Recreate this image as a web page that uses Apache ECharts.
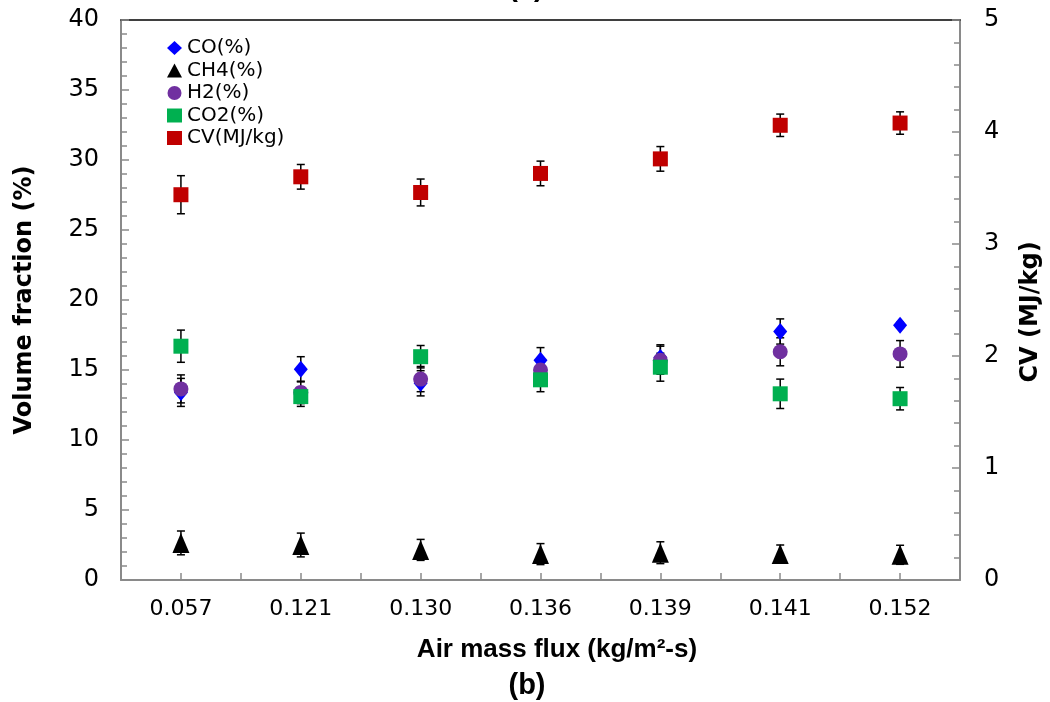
<!DOCTYPE html>
<html>
<head>
<meta charset="utf-8">
<script src="https://cdn.jsdelivr.net/npm/echarts@6/dist/echarts.min.js"></script>
<style>
html,body{margin:0;padding:0;background:#fff;}
#chart{width:1050px;height:702px;}
</style>
</head>
<body>
<div id="chart"></div>
<script>
// ---- data ----
var categories = ['0.057','0.121','0.130','0.136','0.139','0.141','0.152'];
var coVals   = [13.4, 15.05, 14.05, 15.7, 15.9, 17.75, 18.2];
var coErr    = [1.0, 0.9, 0.9, 0.9, 0.9, 0.9, 0.2];
var ch4Vals  = [2.65, 2.5, 2.15, 1.85, 1.95, 1.85, 1.8];
var ch4Err   = [0.85, 0.85, 0.75, 0.75, 0.78, 0.65, 0.68];
var h2Vals   = [13.65, 13.4, 14.35, 15.0, 15.7, 16.3, 16.15];
var h2Err    = [1.0, 0.8, 0.9, 0.8, 1.0, 1.0, 0.95];
var co2Vals  = [16.7, 13.1, 15.95, 14.3, 15.2, 13.3, 12.95];
var co2Err   = [1.15, 0.7, 0.8, 0.85, 1.0, 1.05, 0.8];
var cvVals   = [3.44, 3.60, 3.46, 3.63, 3.76, 4.06, 4.08];
var cvErr    = [0.17, 0.11, 0.12, 0.11, 0.11, 0.10, 0.10];
var leftTicks  = [0, 5, 10, 15, 20, 25, 30, 35, 40];
var rightTicks = [0, 1, 2, 3, 4, 5];

var axisGray = '#8a8a8a';
var tickFont = 'DejaVu Sans';

function errData(vals, errs){
  return vals.map(function(v, i){ return [i, v - errs[i], v + errs[i]]; });
}
function errSeries(name, vals, errs, yIdx){
  return {
    type: 'custom', name: name, xAxisIndex: 0, yAxisIndex: yIdx, z: 1,
    silent: true,
    encode: {x: 0, y: [1, 2]},
    data: errData(vals, errs),
    renderItem: function(params, api){
      var x = api.value(0);
      var lo = api.coord([x, api.value(1)]);
      var hi = api.coord([x, api.value(2)]);
      var w = 4;
      var st = {stroke: '#000', lineWidth: 1.5};
      return {type: 'group', children: [
        {type: 'line', shape: {x1: lo[0], y1: lo[1], x2: hi[0], y2: hi[1]}, style: st},
        {type: 'line', shape: {x1: lo[0]-w, y1: lo[1], x2: lo[0]+w, y2: lo[1]}, style: st},
        {type: 'line', shape: {x1: hi[0]-w, y1: hi[1], x2: hi[0]+w, y2: hi[1]}, style: st}
      ]};
    }
  };
}
function scatter(name, vals, symbol, size, color, yIdx){
  return {
    type: 'scatter', name: name, xAxisIndex: 0, yAxisIndex: yIdx, z: 3,
    symbol: symbol, symbolSize: size,
    itemStyle: {color: color, opacity: 1},
    data: vals
  };
}

var chart = echarts.init(document.getElementById('chart'), null, {renderer: 'canvas'});
var option = {
  animation: false,
  backgroundColor: '#fff',
  grid: {left: 121, right: 90, top: 20, bottom: 122, containLabel: false},
  legend: {
    orient: 'vertical', left: 162, top: 33,
    itemWidth: 15, itemHeight: 14, itemGap: 2.5,
    textStyle: {fontFamily: tickFont, fontSize: 20, color: '#000', lineHeight: 20},
    data: ['CO(%)', 'CH4(%)', 'H2(%)', 'CO2(%)', 'CV(MJ/kg)']
  },
  xAxis: [
    {
      type: 'category', data: categories, position: 'bottom',
      axisLine: {lineStyle: {color: axisGray, width: 2}},
      axisTick: {show: true, inside: true, length: 7, alignWithLabel: true, lineStyle: {color: axisGray, width: 1.5}},
      axisLabel: {fontFamily: tickFont, fontSize: 22, color: '#000', margin: 18},
      splitLine: {show: false}
    },
    {
      type: 'category', data: categories, position: 'bottom',
      axisLine: {show: false},
      axisTick: {show: true, inside: true, length: 7, lineStyle: {color: axisGray, width: 1.5}},
      axisLabel: {show: false},
      splitLine: {show: false}
    },
    {
      type: 'category', data: categories, position: 'top',
      axisLine: {show: true, lineStyle: {color: '#000', width: 1.5}},
      axisTick: {show: false}, axisLabel: {show: false}, splitLine: {show: false}
    }
  ],
  yAxis: [
    {
      type: 'value', min: leftTicks[0], max: leftTicks[leftTicks.length-1], interval: 5,
      position: 'left',
      axisLine: {show: true, lineStyle: {color: axisGray, width: 2}},
      axisTick: {show: true, inside: true, length: 8, lineStyle: {color: axisGray, width: 1.5}},
      minorTick: {show: true, splitNumber: 5, length: 6, lineStyle: {color: axisGray, width: 1.5}},
      axisLabel: {fontFamily: tickFont, fontSize: 24, color: '#000', margin: 22},
      splitLine: {show: false}
    },
    {
      type: 'value', min: rightTicks[0], max: rightTicks[rightTicks.length-1], interval: 1,
      position: 'right',
      axisLine: {show: true, lineStyle: {color: axisGray, width: 2}},
      axisTick: {show: true, inside: true, length: 8, lineStyle: {color: axisGray, width: 1.5}},
      minorTick: {show: true, splitNumber: 5, length: 6, lineStyle: {color: axisGray, width: 1.5}},
      axisLabel: {fontFamily: tickFont, fontSize: 24, color: '#000', margin: 24},
      splitLine: {show: false}
    }
  ],
  graphic: [
    {type: 'text', x: 25, y: 300, rotation: Math.PI/2,
     style: {text: 'Volume fraction (%)', font: 'bold 24px "DejaVu Sans"', fill: '#000', align: 'center', verticalAlign: 'middle'}},
    {type: 'text', x: 1031, y: 312, rotation: Math.PI/2,
     style: {text: 'CV (MJ/kg)', font: 'bold 24px "DejaVu Sans"', fill: '#000', align: 'center', verticalAlign: 'middle'}},
    {type: 'text', x: 557, y: 650,
     style: {text: 'Air mass flux (kg/m²-s)', font: 'bold 26px "Liberation Sans"', fill: '#000', align: 'center', verticalAlign: 'middle'}},
    {type: 'text', x: 527, y: 686,
     style: {text: '(b)', font: 'bold 29px "Liberation Sans"', fill: '#000', align: 'center', verticalAlign: 'middle'}},
    {type: 'text', x: 526, y: -12,
     style: {text: '(a)', font: 'bold 29px "Liberation Sans"', fill: '#000', align: 'center', verticalAlign: 'middle'}}
  ],
  series: [
    errSeries('coErr', coVals, coErr, 0),
    errSeries('ch4Err', ch4Vals, ch4Err, 0),
    errSeries('h2Err', h2Vals, h2Err, 0),
    errSeries('co2Err', co2Vals, co2Err, 0),
    errSeries('cvErr', cvVals, cvErr, 1),
    scatter('CO(%)', coVals, 'diamond', [14, 17], '#0000ff', 0),
    scatter('CH4(%)', ch4Vals, 'triangle', [17, 20], '#000000', 0),
    scatter('H2(%)', h2Vals, 'circle', 15, '#7030a0', 0),
    scatter('CO2(%)', co2Vals, 'rect', 15, '#00b050', 0),
    scatter('CV(MJ/kg)', cvVals, 'rect', 15, '#c00000', 1)
  ]
};
chart.setOption(option);
</script>
</body>
</html>
